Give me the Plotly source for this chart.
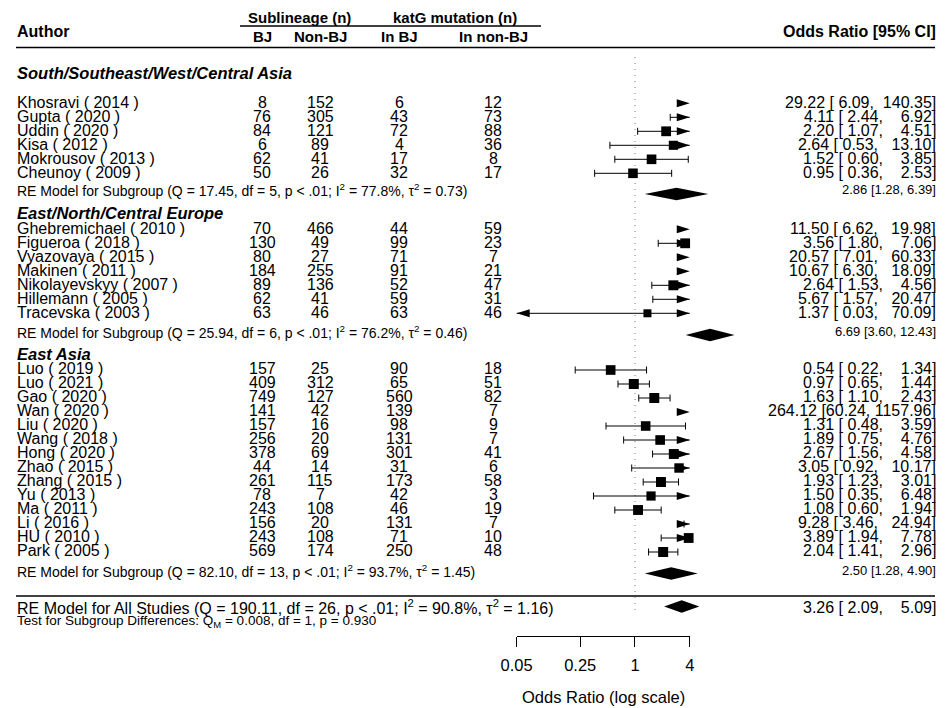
import numpy as np
import plotly.graph_objects as go

W, H = 948, 708
FONT = "Liberation Sans, Arial, sans-serif"

# ---------------- data ----------------
group_names = ["South/Southeast/West/Central Asia", "East/North/Central Europe", "East Asia"]

authors_sa = ["Khosravi ( 2014 )", "Gupta ( 2020 )", "Uddin ( 2020 )", "Kisa ( 2012 )",
              "Mokrousov ( 2013 )", "Cheunoy ( 2009 )"]
bj_sa = [8, 76, 84, 6, 62, 50]
nonbj_sa = [152, 305, 121, 89, 41, 26]
kat_bj_sa = [6, 43, 72, 4, 17, 32]
kat_nonbj_sa = [12, 73, 88, 36, 8, 17]
or_sa = [29.22, 4.11, 2.20, 2.64, 1.52, 0.95]
lo_sa = [6.09, 2.44, 1.07, 0.53, 0.60, 0.36]
hi_sa = [140.35, 6.92, 4.51, 13.10, 3.85, 2.53]

authors_eu = ["Ghebremichael ( 2010 )", "Figueroa ( 2018 )", "Vyazovaya ( 2015 )", "Makinen ( 2011 )",
              "Nikolayevskyy ( 2007 )", "Hillemann ( 2005 )", "Tracevska ( 2003 )"]
bj_eu = [70, 130, 80, 184, 89, 62, 63]
nonbj_eu = [466, 49, 27, 255, 136, 41, 46]
kat_bj_eu = [44, 99, 71, 91, 52, 59, 63]
kat_nonbj_eu = [59, 23, 7, 21, 47, 31, 46]
or_eu = [11.50, 3.56, 20.57, 10.67, 2.64, 5.67, 1.37]
lo_eu = [6.62, 1.80, 7.01, 6.30, 1.53, 1.57, 0.03]
hi_eu = [19.98, 7.06, 60.33, 18.09, 4.56, 20.47, 70.09]

authors_ea = ["Luo ( 2019 )", "Luo ( 2021 )", "Gao ( 2020 )", "Wan ( 2020 )", "Liu ( 2020 )",
              "Wang ( 2018 )", "Hong ( 2020 )", "Zhao ( 2015 )", "Zhang ( 2015 )", "Yu ( 2013 )",
              "Ma ( 2011 )", "Li ( 2016 )", "HU ( 2010 )", "Park ( 2005 )"]
bj_ea = [157, 409, 749, 141, 157, 256, 378, 44, 261, 78, 243, 156, 243, 569]
nonbj_ea = [25, 312, 127, 42, 16, 20, 69, 14, 115, 7, 108, 20, 108, 174]
kat_bj_ea = [90, 65, 560, 139, 98, 131, 301, 31, 173, 42, 46, 131, 71, 250]
kat_nonbj_ea = [18, 51, 82, 7, 9, 7, 41, 6, 58, 3, 19, 7, 10, 48]
or_ea = [0.54, 0.97, 1.63, 264.12, 1.31, 1.89, 2.67, 3.05, 1.93, 1.50, 1.08, 9.28, 3.89, 2.04]
lo_ea = [0.22, 0.65, 1.10, 60.24, 0.48, 0.75, 1.56, 0.92, 1.23, 0.35, 0.60, 3.46, 1.94, 1.41]
hi_ea = [1.34, 1.44, 2.43, 1157.96, 3.59, 4.76, 4.58, 10.17, 3.01, 6.48, 1.94, 24.94, 7.78, 2.96]

# subgroup random-effects summaries
sub_or = [2.86, 6.69, 2.50]
sub_lo = [1.28, 3.60, 1.28]
sub_hi = [6.39, 12.43, 4.90]
sub_q = ["17.45", "25.94", "82.10"]
sub_df = [5, 6, 13]
sub_i2 = ["77.8", "76.2", "93.7"]
sub_tau2 = ["0.73", "0.46", "1.45"]

# overall random-effects model
all_or, all_lo, all_hi = 3.26, 2.09, 5.09
all_q, all_df, all_i2, all_tau2 = "190.11", 26, "90.8", "1.16"
qm, qm_df, qm_p = "0.008", 1, "0.930"

axis_ticks = [0.05, 0.25, 1, 4]
axis_ticktext = ["0.05", "0.25", "1", "4"]

# ---------------- layout constants (pixels) ----------------
OR1_PX = 635.0      # horizontal position of OR = 1
PX_PER_LN = 39.5    # pixels per unit of ln(OR)
ROW = 14.0          # row spacing
alim = (min(axis_ticks), max(axis_ticks))

groups = [
    dict(name=group_names[0], authors=authors_sa, cols=[bj_sa, nonbj_sa, kat_bj_sa, kat_nonbj_sa],
         est=or_sa, lo=lo_sa, hi=hi_sa, head_y=73, first_y=103.3, re_text_y=189.5, re_y=194),
    dict(name=group_names[1], authors=authors_eu, cols=[bj_eu, nonbj_eu, kat_bj_eu, kat_nonbj_eu],
         est=or_eu, lo=lo_eu, hi=hi_eu, head_y=212.5, first_y=229.3, re_text_y=331.5, re_y=335),
    dict(name=group_names[2], authors=authors_ea, cols=[bj_ea, nonbj_ea, kat_bj_ea, kat_nonbj_ea],
         est=or_ea, lo=lo_ea, hi=hi_ea, head_y=354, first_y=370, re_text_y=570.7, re_y=573.5),
]
col_x = [262, 320, 399, 493]
LEFT_X = 17
RIGHT_X = 936
ALL_Y = 606.5
TEST_Y = 621
AXIS_Y = 636

x_range = [(0 - OR1_PX) / PX_PER_LN, (W - OR1_PX) / PX_PER_LN]


def px(v):
    return v / W


fig = go.Figure()
annotations = []
shapes = []


def txt(x, y, s, size=16, anchor="left", bold=False, italic=False):
    t = s
    if bold:
        t = "<b>" + t + "</b>"
    if italic:
        t = "<i>" + t + "</i>"
    annotations.append(dict(x=px(x), y=y, xref="paper", yref="y", text=t, showarrow=False,
                            xanchor=anchor, yanchor="middle", borderpad=0, borderwidth=0,
                            font=dict(family=FONT, size=size, color="black")))


# column widths for the right-hand annotation, as in metafor's formatting
all_est = or_sa + or_eu + or_ea
all_lo_l = lo_sa + lo_eu + lo_ea
all_hi_l = hi_sa + hi_eu + hi_ea
w_est = max(len(f"{v:.2f}") for v in all_est)
w_lo = max(len(f"{v:.2f}") for v in all_lo_l)
w_hi = max(len(f"{v:.2f}") for v in all_hi_l)


def ci_label(e, l, h):
    s = f"{e:>{w_est}.2f} [{l:>{w_lo}.2f}, {h:>{w_hi}.2f}]"
    return s.strip().replace(" ", "\u00a0")


# weights for square sizes (random-effects, overall tau^2)
tau2 = float(all_tau2)
se_all = [(np.log(h) - np.log(l)) / (2 * 1.96) for l, h in zip(all_lo_l, all_hi_l)]
w_all = [1 / (s ** 2 + tau2) for s in se_all]
wmin, wmax = min(w_all), max(w_all)

wl_x, wl_y = [], []   # whiskers
cap_x, cap_y = [], []  # end caps
sq_x, sq_y, sq_s = [], [], []

k = 0
for gi, g in enumerate(groups):
    txt(LEFT_X, g["head_y"], g["name"], size=16.5, bold=True, italic=True)
    for i, a in enumerate(g["authors"]):
        y = g["first_y"] + ROW * i
        ty = y - 1.2
        txt(LEFT_X, ty, a)
        for cx, col in zip(col_x, g["cols"]):
            txt(cx, ty, str(col[i]), anchor="center")
        e, l, h = g["est"][i], g["lo"][i], g["hi"][i]
        txt(RIGHT_X, ty, ci_label(e, l, h), anchor="right")

        lo_c = max(l, alim[0])
        hi_c = min(h, alim[1])
        if lo_c < hi_c:
            wl_x += [float(np.log(lo_c)), float(np.log(hi_c)), None]
            wl_y += [y, y, None]
        if alim[0] <= l <= alim[1]:
            cap_x += [float(np.log(l)), float(np.log(l)), None]
            cap_y += [y - 3.5, y + 3.5, None]
        if alim[0] <= h <= alim[1]:
            cap_x += [float(np.log(h)), float(np.log(h)), None]
            cap_y += [y - 3.5, y + 3.5, None]
        if h > alim[1]:
            shapes.append(dict(type="path", xref="x", yref="y", xsizemode="pixel",
                               xanchor=float(np.log(alim[1])),
                               path=f"M0,{y} L-13,{y - 4} L-13,{y + 4} Z",
                               fillcolor="black", line=dict(width=0)))
        if l < alim[0]:
            shapes.append(dict(type="path", xref="x", yref="y", xsizemode="pixel",
                               xanchor=float(np.log(alim[0])),
                               path=f"M0,{y} L13,{y - 4} L13,{y + 4} Z",
                               fillcolor="black", line=dict(width=0)))
        if alim[0] <= e <= alim[1]:
            sq_x.append(float(np.log(e)))
            sq_y.append(y)
            sq_s.append(8 + 2 * (w_all[k] - wmin) / (wmax - wmin))
        k += 1

    re_txt = (f"RE Model for Subgroup (Q = {sub_q[gi]}, df = {sub_df[gi]}, p &lt; .01; "
              f"I<sup>2</sup> = {sub_i2[gi]}%, \u03c4<sup>2</sup> = {sub_tau2[gi]})")
    txt(LEFT_X, g["re_text_y"], re_txt, size=14)
    txt(RIGHT_X, g["re_text_y"], f"{sub_or[gi]:.2f} [{sub_lo[gi]:.2f}, {sub_hi[gi]:.2f}]",
        size=13, anchor="right")
    yd = g["re_y"]
    shapes.append(dict(type="path", xref="x", yref="y",
                       path=(f"M{np.log(sub_lo[gi])},{yd} L{np.log(sub_or[gi])},{yd - 6.3} "
                             f"L{np.log(sub_hi[gi])},{yd} L{np.log(sub_or[gi])},{yd + 6.3} Z"),
                       fillcolor="black", line=dict(width=0)))

# overall model
txt(LEFT_X, ALL_Y + 0.5, (f"RE Model for All Studies (Q = {all_q}, df = {all_df}, p &lt; .01; "
                          f"I<sup>2</sup> = {all_i2}%, \u03c4<sup>2</sup> = {all_tau2})"), size=16)
txt(RIGHT_X, ALL_Y + 0.5, ci_label(all_or, all_lo, all_hi), anchor="right")
shapes.append(dict(type="path", xref="x", yref="y",
                   path=(f"M{np.log(all_lo)},{ALL_Y} L{np.log(all_or)},{ALL_Y - 6.3} "
                         f"L{np.log(all_hi)},{ALL_Y} L{np.log(all_or)},{ALL_Y + 6.3} Z"),
                   fillcolor="black", line=dict(width=0)))
txt(LEFT_X, TEST_Y, f"Test for Subgroup Differences: Q<sub>M</sub> = {qm}, df = {qm_df}, p = {qm_p}",
    size=13.5)

# header
txt(299, 17, "Sublineage (n)", size=15, anchor="center", bold=True)
txt(455, 17, "katG mutation (n)", size=15, anchor="center", bold=True)
txt(LEFT_X, 31, "Author", size=16, bold=True)
for cx, lab in zip(col_x, ["BJ", "Non-BJ", "In BJ", "In non-BJ"]):
    txt(cx, 36, lab, size=15, anchor="center", bold=True)
txt(RIGHT_X, 31, "Odds Ratio [95% CI]", size=16, anchor="right", bold=True)

ax_lo_px = OR1_PX + PX_PER_LN * np.log(alim[0])
ax_hi_px = OR1_PX + PX_PER_LN * np.log(alim[1])
txt((ax_lo_px + ax_hi_px) / 2, 697, "Odds Ratio (log scale)", size=16.5, anchor="center")

for (x0, x1, y0, w) in [(240, 541, 26, 1.3), (16, 935, 47.5, 1.5), (16, 935, 596, 1.5)]:
    shapes.append(dict(type="line", xref="paper", yref="y", x0=px(x0), x1=px(x1), y0=y0, y1=y0,
                       line=dict(color="black", width=w)))

# reference line at OR = 1
fig.add_trace(go.Scatter(x=[0, 0], y=[57, 614], mode="lines",
                         line=dict(color="#777777", width=1, dash="1px,5px"),
                         hoverinfo="skip", showlegend=False))
fig.add_trace(go.Scatter(x=wl_x, y=wl_y, mode="lines", line=dict(color="black", width=1),
                         hoverinfo="skip", showlegend=False))
fig.add_trace(go.Scatter(x=cap_x, y=cap_y, mode="lines", line=dict(color="black", width=1),
                         hoverinfo="skip", showlegend=False))
fig.add_trace(go.Scatter(x=sq_x, y=sq_y, mode="markers",
                         marker=dict(symbol="square", size=sq_s, color="black", opacity=1,
                                     line=dict(width=0)),
                         hoverinfo="skip", showlegend=False))
# carrier trace for the visible log axis
fig.add_trace(go.Scatter(x=[1], y=[650], xaxis="x2", yaxis="y", mode="markers",
                         marker=dict(opacity=0), hoverinfo="skip", showlegend=False))

fig.update_layout(
    template="none",
    width=W, height=H, margin=dict(l=0, r=0, t=0, b=0, pad=0, autoexpand=False),
    paper_bgcolor="white", plot_bgcolor="rgba(0,0,0,0)",
    xaxis=dict(range=x_range, visible=False, domain=[0, 1], automargin=False),
    yaxis=dict(range=[H, 0], visible=False, domain=[0, 1], automargin=False),
    xaxis2=dict(type="log", range=[np.log10(alim[0]), np.log10(alim[1])],
                domain=[px(ax_lo_px), px(ax_hi_px)], anchor="free", position=1 - AXIS_Y / H,
                side="bottom", showline=True, linecolor="black", linewidth=1,
                ticks="outside", ticklen=10, tickwidth=1, tickcolor="black",
                tickvals=axis_ticks, ticktext=axis_ticktext, ticklabelstandoff=4,
                tickfont=dict(family=FONT, size=16.5, color="black"),
                showgrid=False, zeroline=False, automargin=False),
    annotations=annotations, shapes=shapes, showlegend=False,
)

fig.write_html("out.html")
